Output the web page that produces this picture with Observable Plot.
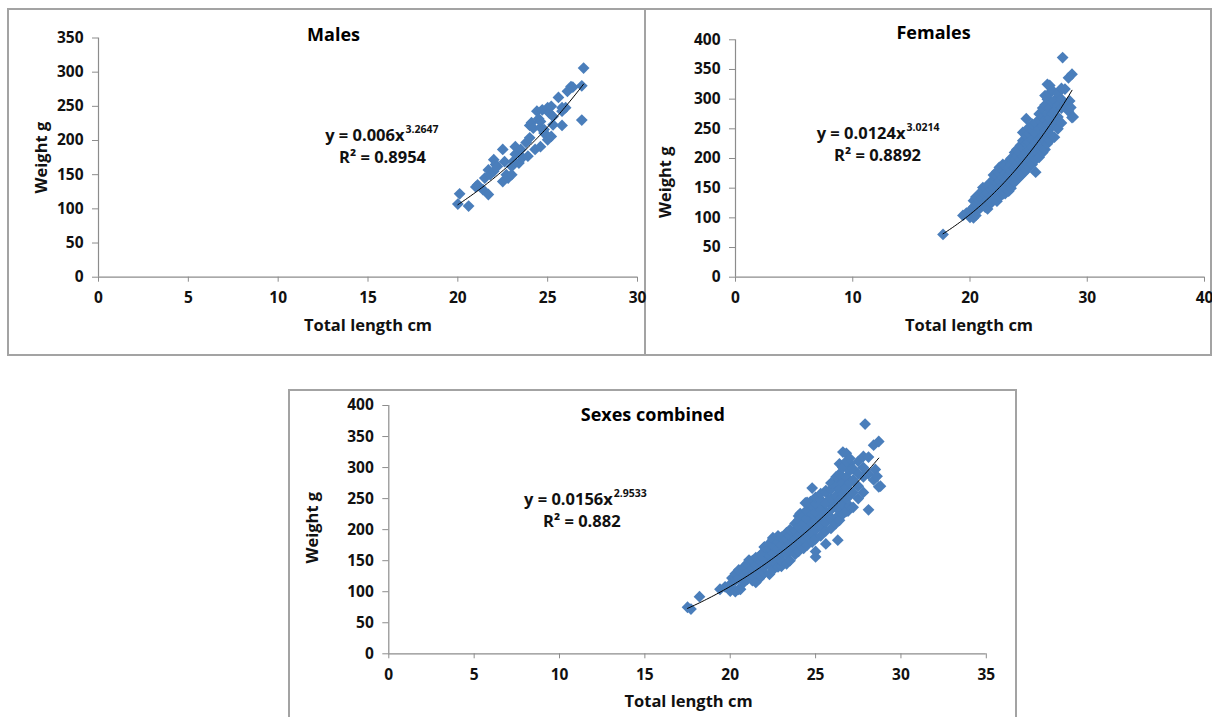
<!DOCTYPE html>
<html>
<head>
<meta charset="utf-8">
<script src="https://cdn.jsdelivr.net/npm/d3@7"></script>
<script src="https://cdn.jsdelivr.net/npm/@observablehq/plot@0.6"></script>
<style>
  html, body { margin: 0; padding: 0; background: #fff; }
  #root { position: relative; width: 1212px; height: 717px; overflow: hidden; background: #fff; }
  .box { position: absolute; border: 2px solid #a3a3a3; box-sizing: border-box; }
  .vline { position: absolute; width: 2px; background: #a3a3a3; }
  .panel { position: absolute; }
  .panel svg { overflow: visible; }
</style>
</head>
<body>
<div id="root">
  <div class="box" style="left:7px; top:8px; width:1205px; height:348px;"></div>
  <div class="vline" style="left:644px; top:8px; height:348px;"></div>
  <div class="box" style="left:288px; top:389px; width:729px; height:340px;"></div>
</div>
<script>
// ---------------- DATA ----------------
// [total length cm, weight g]
const males = [
  [20.0,107],[20.1,122],[20.6,104],[21.0,132],[21.1,135],[21.4,128],[21.5,145],[21.7,121],[21.7,157],[21.8,150],
  [22.0,155],[22.0,172],[22.1,165],[22.2,162],[22.5,140],[22.5,187],[22.6,169],[22.7,150],[22.8,145],[23.0,150],
  [23.0,162],[23.1,170],[23.2,180],[23.2,191],[23.4,167],[23.5,187],[23.6,175],[23.8,197],[23.9,177],[24.0,204],
  [24.0,222],[24.1,226],[24.2,218],[24.3,187],[24.4,243],[24.5,232],[24.6,191],[24.6,219],[24.6,228],[24.7,245],
  [24.8,211],[24.8,216],[25.0,201],[25.0,206],[25.0,248],[25.1,240],[25.2,206],[25.2,250],[25.3,223],[25.3,235],
  [25.6,263],[25.8,222],[25.8,243],[25.8,248],[26.0,248],[26.1,272],[26.3,279],[26.4,278],[26.9,280],[26.9,230],
  [27.0,306]
];
const females = [
  [17.7,72],[19.4,104],[19.7,108],[20.0,101],[20.0,112],
  [20.3,100],[20.3,118],[20.3,129],[20.5,104],[20.5,122],[20.5,135],
  [20.8,115],[20.8,128],[20.8,140],[21.0,120],[21.0,132],[21.0,145],[21.1,151],
  [21.3,118],[21.3,126],[21.3,138],[21.3,150],[21.5,115],[21.5,130],[21.5,142],[21.5,155],
  [21.8,125],[21.8,135],[21.8,148],[21.8,160],[22.0,130],[22.0,140],[22.0,152],[22.0,165],[22.0,172],
  [22.3,128],[22.3,145],[22.3,158],[22.3,170],[22.3,178],[22.5,135],[22.5,150],[22.5,162],[22.5,175],[22.5,185],
  [22.8,140],[22.8,155],[22.8,168],[22.8,180],[22.8,190],[23.0,141],[23.0,150],[23.0,163],[23.0,175],[23.0,188],
  [23.3,145],[23.3,160],[23.3,172],[23.3,185],[23.3,195],[23.5,150],[23.5,165],[23.5,178],[23.5,190],[23.5,200],
  [23.8,160],[23.8,172],[23.8,185],[23.8,198],[23.8,210],[24.0,165],[24.0,178],[24.0,190],[24.0,205],[24.0,215],
  [24.3,170],[24.3,185],[24.3,198],[24.3,210],[24.3,222],[24.5,175],[24.5,190],[24.5,203],[24.5,218],[24.5,230],[24.5,244],
  [24.8,180],[24.8,195],[24.8,210],[24.8,225],[24.8,238],[24.8,267],[25.0,185],[25.0,200],[25.0,215],[25.0,228],[25.0,242],[25.0,252],
  [25.3,190],[25.3,205],[25.3,219],[25.3,232],[25.3,248],[25.3,258],[25.6,177],[25.6,198],[25.6,212],[25.6,228],[25.6,242],[25.6,260],
  [25.9,202],[25.9,218],[25.9,232],[25.9,250],[25.9,265],[25.9,275],[26.2,210],[26.2,219],[26.2,238],[26.2,255],[26.2,270],[26.2,285],
  [26.4,215],[26.4,230],[26.4,248],[26.4,265],[26.4,290],[26.4,306],[26.6,225],[26.6,240],[26.6,258],[26.6,275],[26.6,300],[26.6,325],
  [26.8,230],[26.8,250],[26.8,268],[26.8,285],[26.8,310],[26.8,323],[27.0,238],[27.0,255],[27.0,275],[27.0,295],[27.0,315],
  [27.2,236],[27.2,260],[27.2,280],[27.2,298],[27.5,250],[27.5,270],[27.5,290],[27.5,310],
  [27.8,260],[27.8,285],[27.8,300],[27.8,318],[27.9,370],[28.1,290],[28.1,317],[28.4,280],[28.4,336],
  [28.5,297],[28.6,286],[28.7,269],[28.7,342],[28.8,270]
];
// points visible only in the combined panel
const combinedExtra = [[17.5,75],[18.2,92],[28.1,232],[25.0,156],[25.0,165],[26.3,183]];
const combined = [...males, ...females, ...combinedExtra];

// trendline coefficients shown on the chart: y = a * x^b, drawn over the data range
const malesFit    = {a: 0.006,  b: 3.2647, r2: "0.8954", from: 20.0, to: 27.0};
const femalesFit  = {a: 0.0124, b: 3.0214, r2: "0.8892", from: 17.7, to: 28.7};
const combinedFit = {a: 0.0156, b: 2.9533, r2: "0.882",  from: 17.5, to: 28.7};

// ticks
const malesXTicks = [0,5,10,15,20,25,30];
const malesYTicks = [0,50,100,150,200,250,300,350];
const femalesXTicks = [0,10,20,30,40];
const femalesYTicks = [0,50,100,150,200,250,300,350,400];
const combinedXTicks = [0,5,10,15,20,25,30,35];
const combinedYTicks = [0,50,100,150,200,250,300,350,400];

// ---------------- DRAWING ----------------
const FONT = "'Open Sans', Lato, sans-serif";
const AXIS = "#8c8c8c";
const BLUE = "#4A7EBB";
const INK = "#111";

function trend(fit) {
  const pts = [];
  const n = 80;
  for (let i = 0; i <= n; i++) {
    const x = fit.from + (fit.to - fit.from) * i / n;
    pts.push({x, y: fit.a * Math.pow(x, fit.b)});
  }
  return pts;
}

function label(text, o) {
  return Plot.text([text], {textAnchor: "middle", lineAnchor: "middle", fontWeight: "bold", fill: INK, ...o});
}

function panel(cfg) {
  const fit = cfg.fit;
  const coef = String(fit.a);
  const plot = Plot.plot({
    width: cfg.width, height: cfg.height,
    marginLeft: cfg.mL, marginRight: cfg.mR, marginTop: cfg.mT, marginBottom: cfg.mB,
    style: {fontFamily: FONT, fontSize: "15px", fontWeight: "bold", color: INK, background: "transparent", overflow: "visible"},
    x: {domain: [cfg.xTicks[0], cfg.xTicks[cfg.xTicks.length - 1]]},
    y: {domain: [cfg.yTicks[0], cfg.yTicks[cfg.yTicks.length - 1]]},
    marks: [
      Plot.axisX({ticks: cfg.xTicks, tickSize: 5, tickPadding: 10, stroke: AXIS, fill: INK, fontSize: 15.5, fontWeight: "bold", label: null, tickFormat: d => String(d)}),
      Plot.axisY({ticks: cfg.yTicks, tickSize: 6, tickPadding: 9, stroke: AXIS, fill: INK, fontSize: 15.5, fontWeight: "bold", label: null, tickFormat: d => String(d)}),
      Plot.ruleY([cfg.yTicks[0]], {stroke: AXIS, strokeWidth: 1.2}),
      Plot.ruleX([cfg.xTicks[0]], {stroke: AXIS, strokeWidth: 1.2}),
      Plot.dot(cfg.data, {x: d => d[0], y: d => d[1], symbol: "diamond2", r: 5.3, fill: BLUE, stroke: "none"}),
      Plot.line(trend(fit), {x: "x", y: "y", stroke: "#000", strokeWidth: 1}),
      // title
      label(cfg.title, {frameAnchor: "top-left", dx: cfg.titleDx, dy: cfg.titleDy, fontSize: 18, fill: "#000"}),
      // equation
      label(`y = ${coef}x`, {frameAnchor: "top-left", dx: cfg.eqDx, dy: cfg.eqDy, textAnchor: "end", fontSize: 16.5}),
      label(String(fit.b), {frameAnchor: "top-left", dx: cfg.eqDx + 1, dy: cfg.eqDy - 6, textAnchor: "start", fontSize: 10.5}),
      label(`R² = ${fit.r2}`, {frameAnchor: "top-left", dx: cfg.r2Dx, dy: cfg.r2Dy, fontSize: 16.5}),
      // axis labels
      label("Total length cm", {frameAnchor: "bottom", dx: cfg.xlDx, dy: cfg.xlDy, fontSize: 16.5}),
      label("Weight g", {frameAnchor: "left", dx: cfg.ylDx, dy: cfg.ylDy, rotate: -90, fontSize: 16.5})
    ]
  });
  const holder = document.createElement("div");
  holder.className = "panel";
  holder.style.left = cfg.left + "px";
  holder.style.top = cfg.top + "px";
  holder.appendChild(plot);
  document.getElementById("root").appendChild(holder);
}

panel({
  data: males, fit: malesFit, title: "Males", xTicks: malesXTicks, yTicks: malesYTicks,
  left: 8, top: 9, width: 637, height: 346, mL: 90, mR: 8, mT: 28.5, mB: 78.3,
  titleDx: 235, titleDy: -2.5, eqDx: 306, eqDy: 98, r2Dx: 284, r2Dy: 120,
  xlDx: 0, xlDy: 49, ylDx: -57, ylDy: 0
});
panel({
  data: females, fit: femalesFit, title: "Females", xTicks: femalesXTicks, yTicks: femalesYTicks,
  left: 645, top: 9, width: 567, height: 346, mL: 90, mR: 8, mT: 30.3, mB: 78.3,
  titleDx: 198, titleDy: -6.3, eqDx: 170, eqDy: 94.2, r2Dx: 142, r2Dy: 116.2,
  xlDx: -1, xlDy: 49, ylDx: -69.5, ylDy: 23.7
});
panel({
  data: combined, fit: combinedFit, title: "Sexes combined", xTicks: combinedXTicks, yTicks: combinedYTicks,
  left: 289, top: 390, width: 727, height: 327, mL: 99.3, mR: 30.2, mT: 15, mB: 63.7,
  titleDx: 264, titleDy: 10, eqDx: 224, eqDy: 94, r2Dx: 193, r2Dy: 116,
  xlDx: 1, xlDy: 47.7, ylDx: -76.3, ylDy: -2
});
</script>
</body>
</html>
